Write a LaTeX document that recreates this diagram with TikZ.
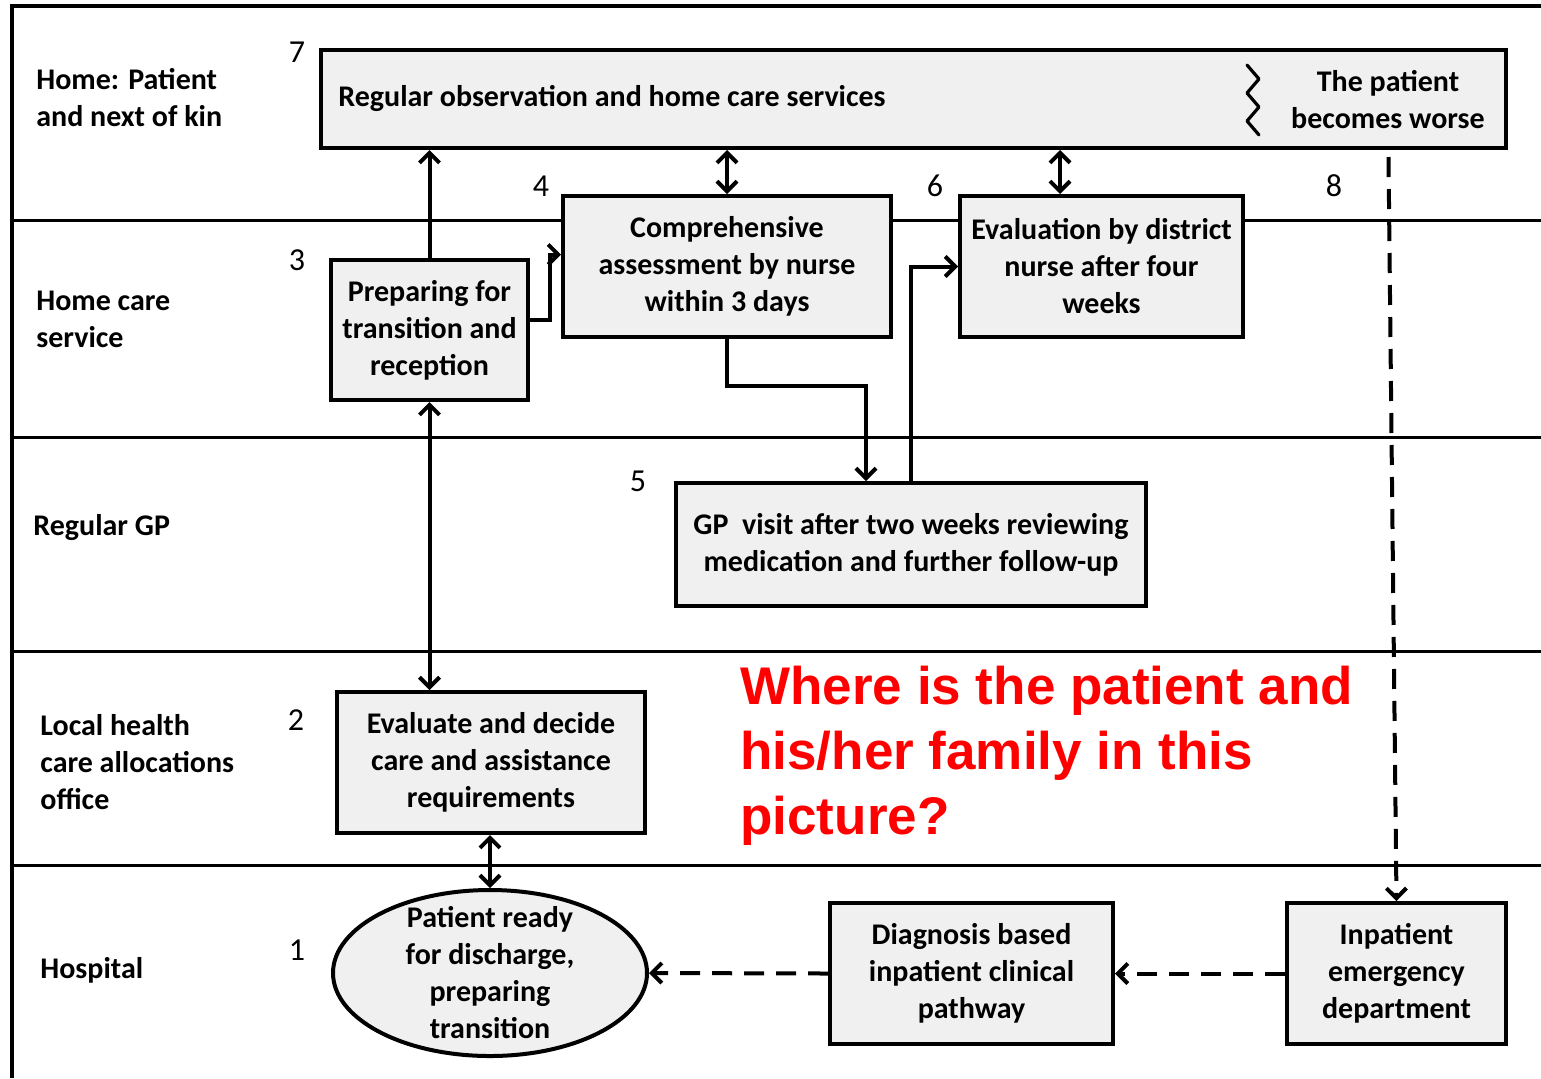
\documentclass[tikz,border=0pt]{standalone}
\usepackage{fontspec}
\setmainfont{Carlito}
\newfontfamily\redfont{Liberation Sans}
\usetikzlibrary{arrows.meta,shapes.geometric,calc}
\definecolor{boxfill}{RGB}{240,240,240}
\definecolor{qred}{RGB}{255,0,0}
\begin{document}
\begin{tikzpicture}[x=0.5pt,y=-0.5pt,
  box/.style={draw, line width=2pt, fill=boxfill, inner sep=0pt,
    font=\bfseries\fontsize{15}{18.5}\selectfont, align=center},
  txt/.style={font=\bfseries\fontsize{15}{18.5}\selectfont, align=center, inner sep=0pt},
  lbl/.style={font=\bfseries\fontsize{15}{18.5}\selectfont, align=left, anchor=west, inner sep=0pt},
  num/.style={font=\fontsize{16}{18}\selectfont, inner sep=0pt},
  cline/.style={draw=black, line width=2pt},
  dline/.style={draw=black, line width=2pt, dash pattern=on 10pt off 6pt},
  lane/.style={line width=1.5pt},
  >={Straight Barb[length=5pt,width=10pt]}]
\useasboundingbox (0,0) rectangle (1541,1078);
% frame and lanes
\draw[line width=1.7pt] (12,1078) -- (12,6) -- (1541,6);
\foreach \yy in {220,437,651,865} \draw[lane] (12,\yy) -- (1541,\yy);
% lane labels
\node[lbl] (l1) at (36,98) {Home: Patient\\and next of kin};
\node[lbl] (l2) at (36,319) {Home care\\service};
\node[lbl] (l3) at (33,528) {Regular GP};
\node[lbl] (l4) at (40,762) {Local health\\care allocations\\office};
\node[lbl] (l5) at (40,970) {Hospital};
% numbers
\node[num] (n7) at (297,52) {7};
\node[num] (n4) at (541,186) {4};
\node[num] (n6) at (935,186) {6};
\node[num] (n8) at (1334,186) {8};
\node[num] (n3) at (297,260) {3};
\node[num] (n5) at (638,481) {5};
\node[num] (n2) at (296,720) {2};
\node[num] (n1) at (297,950) {1};
% boxes
\node[box, minimum width=592.5pt, minimum height=49pt] (b7) at (913.5,99) {};
\node[txt, anchor=west] (t7a) at (338,98) {Regular observation and home care services};
\node[txt] (t7b) at (1388,100) {The patient\\becomes worse};
\draw[line width=1.6pt, line join=round, line cap=round]
  (1247,65) -- (1259,79) -- (1247,93) -- (1259,107) -- (1247,121) -- (1259,135);
\node[box, minimum width=98.5pt, minimum height=70pt] (b3) at (429.5,330) {Preparing for\\transition and\\reception};
\node[box, minimum width=164pt, minimum height=70.5pt] (b4) at (727,266.5) {Comprehensive\\assessment by nurse\\within 3 days};
\node[box, minimum width=141.5pt, minimum height=70.5pt] (b6) at (1101.5,266.5) {Evaluation by district\\nurse after four\\weeks};
\node[box, minimum width=235pt, minimum height=61.5pt] (b5) at (911,544.5) {GP\ \ visit after two weeks reviewing\\medication and further follow-up};
\node[box, minimum width=154pt, minimum height=70.5pt] (b2) at (491,762.5) {Evaluate and decide\\care and assistance\\requirements};
\node[draw, line width=2pt, fill=boxfill, ellipse, minimum width=157pt, minimum height=83pt, inner sep=0pt] (e1) at (490,973) {};
\node[txt] (t1) at (e1.center) {Patient ready\\for discharge,\\preparing\\transition};
\node[box, minimum width=141.5pt, minimum height=70.5pt] (bd) at (971.5,973.5) {Diagnosis based\\inpatient clinical\\pathway};
\node[box, minimum width=109.5pt, minimum height=70.5pt] (bi) at (1396.5,973.5) {Inpatient\\emergency\\department};
% connectors
\path[cline,->] (b3.north) -- (b3.north |- b7.south);
\path[cline,->] ([yshift=5pt]b3.east) -- ++(10pt,0) |- ([yshift=6pt]b4.west);
\path[cline,<->] (b4.north) -- (b4.north |- b7.south);
\path[cline,<->] ([xshift=-20.75pt]b6.north) -- ([xshift=-20.75pt]b6.north |- b7.south);
\path[cline,->] (b4.south) -- ++(0,-23.5pt) -| ([xshift=-22.5pt]b5.north);
\path[cline,->] (b5.north) |- (b6.west);
\path[cline,<->] (b3.south) -- (b3.south |- b2.north);
\path[cline,<->] (b2.south -| e1.north) -- (e1.north);
\path[dline,->] ([xshift=-4pt,yshift=-3.5pt]bi.north |- b7.south) -- (bi.north);
\path[dline,->] (bi.west) -- (bd.east);
\path[dline,->] (bd.west) -- (e1.east);
% question
\node[font=\redfont\bfseries\fontsize{26.5}{32.5}\selectfont, text=qred, align=left, anchor=north west, inner sep=0pt] (q) at (740,666)
  {Where is the patient and\\his/her family in this\\picture?};
\end{tikzpicture}
\end{document}
